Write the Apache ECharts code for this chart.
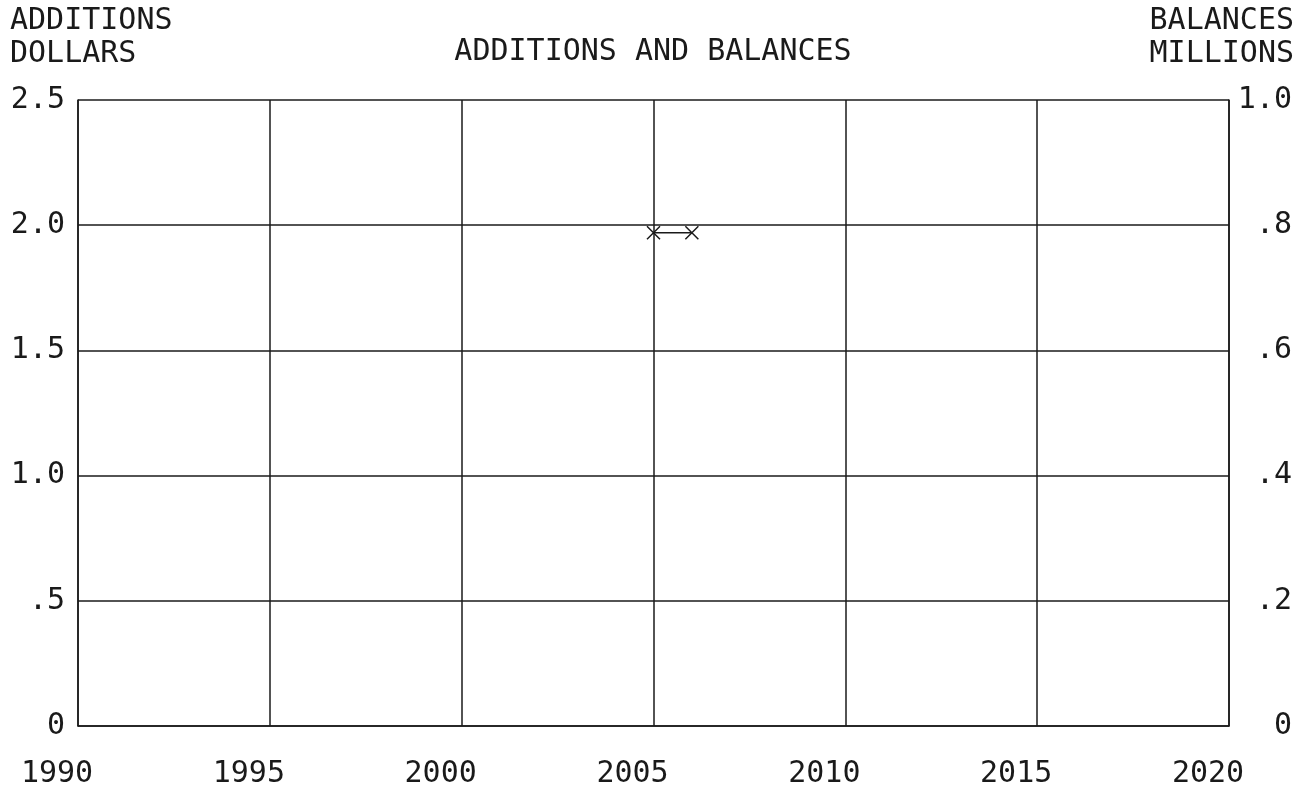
<!DOCTYPE html>
<html>
<head>
<meta charset="utf-8">
<script src="https://cdn.jsdelivr.net/npm/echarts@6/dist/echarts.min.js"></script>
<style>
html,body{margin:0;padding:0;background:#fff;}
#chart{width:1297px;height:789px;}
</style>
</head>
<body>
<div id="chart"></div>
<script>
// Data
const years = [2005, 2006];
const additions = [1.97, 1.97];
const xTicks = [1990, 1995, 2000, 2005, 2010, 2015, 2020];
const leftTicks = [0, 0.5, 1.0, 1.5, 2.0, 2.5];
const rightTicks = [0, 0.2, 0.4, 0.6, 0.8, 1.0];

const FONT = 'DejaVu Sans Mono';
const FS = 30;
const INK = '#1a1a1a';

function fmtTick(v) {
  if (Math.abs(v) < 1e-9) return '0';
  let s = v.toFixed(1);
  if (s.startsWith('0.')) s = s.slice(1);
  return s;
}

const chart = echarts.init(document.getElementById('chart'), null, {renderer: 'canvas'});
const lineStyle = {color: INK, width: 1.5};

chart.setOption({
  backgroundColor: '#fff',
  animation: false,
  title: [
    {text: 'ADDITIONS AND BALANCES', left: 653, textAlign: 'center', top: 36, padding: 0,
     textStyle: {fontFamily: FONT, fontSize: FS, fontWeight: 'normal', color: INK, lineHeight: 33}},
    {text: 'ADDITIONS\nDOLLARS', left: 10, top: 5, padding: 0,
     textStyle: {fontFamily: FONT, fontSize: FS, fontWeight: 'normal', color: INK, lineHeight: 33}},
    {text: 'BALANCES\nMILLIONS', left: 1294, textAlign: 'right', top: 5, padding: 0,
     textStyle: {fontFamily: FONT, fontSize: FS, fontWeight: 'normal', color: INK, lineHeight: 33, align: 'right'}}
  ],
  grid: {left: 78, right: 68, top: 100, bottom: 63, containLabel: false, outerBoundsMode: 'none'},
  xAxis: {
    type: 'value', min: xTicks[0], max: xTicks[xTicks.length - 1], interval: 5,
    axisLine: {show: true, onZero: false, lineStyle: lineStyle},
    axisTick: {show: false},
    splitLine: {show: true, lineStyle: lineStyle},
    axisLabel: {
      fontFamily: FONT, fontSize: FS, color: INK, margin: 33,
      padding: [0, 42, 0, 0],
      formatter: v => String(v),
      showMinLabel: true, showMaxLabel: true
    }
  },
  yAxis: [
    {
      type: 'value', min: leftTicks[0], max: leftTicks[leftTicks.length - 1], interval: 0.5,
      position: 'left',
      axisLine: {show: true, lineStyle: lineStyle},
      axisTick: {show: false},
      splitLine: {show: true, lineStyle: lineStyle},
      axisLabel: {fontFamily: FONT, fontSize: FS, color: INK, margin: 13, align: 'right',
                  formatter: fmtTick, showMinLabel: true, showMaxLabel: true}
    },
    {
      type: 'value', min: rightTicks[0], max: rightTicks[rightTicks.length - 1], interval: 0.2,
      position: 'right',
      axisLine: {show: true, lineStyle: lineStyle},
      axisTick: {show: false},
      splitLine: {show: false},
      axisLabel: {fontFamily: FONT, fontSize: FS, color: INK, margin: 63, align: 'right',
                  formatter: fmtTick, showMinLabel: true, showMaxLabel: true}
    }
  ],
  series: [{
    name: 'ADDITIONS',
    type: 'line',
    yAxisIndex: 0,
    data: years.map((y, i) => [y, additions[i]]),
    symbol: 'path://M0,0L10,10M10,0L0,10',
    symbolSize: 13,
    showSymbol: true,
    itemStyle: {color: INK, borderColor: INK, borderWidth: 1.5},
    lineStyle: {color: INK, width: 1.5}
  }]
});
</script>
</body>
</html>
